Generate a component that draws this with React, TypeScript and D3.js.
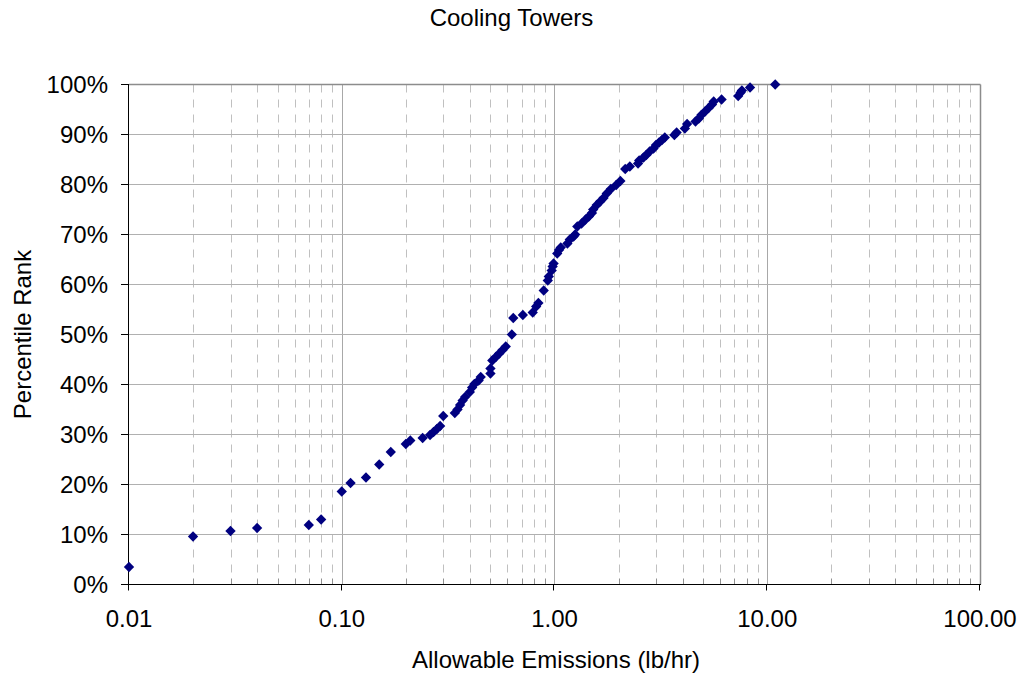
import * as d3 from 'd3';

const W = 1023;
const H = 677;
const PLOT = { left: 129, right: 980, top: 84.5, bottom: 584.5 };
const FONT = 'Arial, "Liberation Sans", sans-serif';

// Allowable emissions (lb/hr) and their percentile rank (%)
const emissions = [
  0.01, 0.02, 0.03, 0.04, 0.07, 0.08, 0.10, 0.11, 0.13, 0.15,
  0.17, 0.20, 0.21, 0.24, 0.26, 0.27, 0.28, 0.29, 0.30, 0.34,
  0.35, 0.36, 0.37, 0.38, 0.40, 0.41, 0.42, 0.44, 0.45, 0.50,
  0.50, 0.51, 0.53, 0.55, 0.57, 0.59, 0.63, 0.64, 0.71, 0.79,
  0.82, 0.84, 0.89, 0.93, 0.94, 0.97, 0.98, 0.99, 1.03, 1.05,
  1.07, 1.15, 1.18, 1.23, 1.25, 1.28, 1.34, 1.40, 1.45, 1.50,
  1.52, 1.58, 1.64, 1.70, 1.76, 1.84, 1.95, 2.04, 2.15, 2.26,
  2.47, 2.50, 2.62, 2.70, 2.80, 2.92, 3.00, 3.10, 3.20, 3.30,
  3.66, 3.75, 4.10, 4.20, 4.60, 4.77, 4.90, 5.10, 5.30, 5.50,
  5.60, 6.10, 7.30, 7.50, 7.60, 8.30, 10.9,
];
const ranks = [
  3.5, 9.6, 10.7, 11.3, 11.9, 13.0, 18.6, 20.3, 21.4, 24.0,
  26.5, 28.1, 28.8, 29.3, 29.9, 30.5, 31.1, 31.7, 33.7, 34.3,
  35.0, 35.9, 36.8, 37.5, 38.5, 39.4, 40.1, 40.8, 41.5, 42.2,
  43.2, 44.8, 45.5, 46.2, 46.9, 47.6, 50.0, 53.3, 53.9, 54.4,
  55.6, 56.3, 58.8, 60.8, 61.6, 62.8, 63.6, 64.2, 66.2, 66.9,
  67.4, 68.2, 69.0, 69.6, 70.0, 71.6, 72.2, 73.0, 73.6, 74.3,
  75.0, 75.9, 76.6, 77.3, 78.2, 79.1, 79.9, 80.7, 83.1, 83.6,
  84.2, 84.8, 85.4, 85.9, 86.6, 87.2, 87.9, 88.4, 88.9, 89.4,
  89.9, 90.4, 91.2, 92.1, 92.6, 93.2, 93.9, 94.6, 95.3, 96.0,
  96.6, 97.0, 97.7, 98.4, 98.8, 99.4, 100,
];

const xMajor = [0.01, 0.1, 1, 10, 100];
const yTicks = [0, 10, 20, 30, 40, 50, 60, 70, 80, 90, 100];

export default function App() {
  const x = d3.scaleLog().domain([0.01, 100]).range([PLOT.left, PLOT.right]);
  const y = d3.scaleLinear().domain([0, 100]).range([PLOT.bottom, PLOT.top]);

  // minor ticks 2..9 within each decade
  const xMinor: number[] = [];
  for (let d = 0; d < xMajor.length - 1; d++) {
    for (let k = 2; k <= 9; k++) xMinor.push(xMajor[d] * k);
  }

  const diamond = d3.symbol().type(d3.symbolDiamond2).size(68)();
  const points = emissions.map((e, i) => ({ e, r: ranks[i] }));

  return (
    <svg width={W} height={H} style={{ position: 'absolute', left: 0, top: 0, background: '#fff' }}
      fontFamily={FONT}>
      {/* minor vertical grid, dashed */}
      {xMinor.map(v => (
        <line key={'mg' + v} x1={Math.round(x(v)) + 0.5} x2={Math.round(x(v)) + 0.5}
          y1={PLOT.top} y2={PLOT.bottom} stroke="#c0c0c0" strokeDasharray="8,7" />
      ))}
      {/* major vertical grid */}
      {xMajor.slice(1, -1).map(v => (
        <line key={'Mg' + v} x1={Math.round(x(v)) + 0.5} x2={Math.round(x(v)) + 0.5}
          y1={PLOT.top} y2={PLOT.bottom} stroke="#a8a8a8" />
      ))}
      {/* horizontal grid */}
      {yTicks.slice(1).map(t => (
        <line key={'hg' + t} x1={PLOT.left} x2={PLOT.right} y1={y(t)} y2={y(t)} stroke="#b0b0b0" />
      ))}
      {/* plot frame top/right */}
      <line x1={PLOT.left} x2={PLOT.right + 0.5} y1={PLOT.top} y2={PLOT.top} stroke="#8c8c8c" strokeWidth={1.5} />
      <line x1={PLOT.right + 0.5} x2={PLOT.right + 0.5} y1={PLOT.top} y2={PLOT.bottom} stroke="#8c8c8c" strokeWidth={1.5} />

      {/* minor x ticks (inside) */}
      {xMinor.map(v => (
        <line key={'mt' + v} x1={Math.round(x(v)) + 0.5} x2={Math.round(x(v)) + 0.5}
          y1={PLOT.bottom - 6} y2={PLOT.bottom} stroke="#909090" />
      ))}
      {/* axes */}
      <line x1={PLOT.left} x2={PLOT.right + 1} y1={PLOT.bottom} y2={PLOT.bottom} stroke="#000" />
      <line x1={PLOT.left - 0.5} x2={PLOT.left - 0.5} y1={PLOT.top} y2={PLOT.bottom} stroke="#000" />
      {xMajor.map(v => (
        <g key={'xt' + v}>
          <line x1={Math.round(x(v)) - 0.5} x2={Math.round(x(v)) - 0.5} y1={PLOT.bottom} y2={PLOT.bottom + 6} stroke="#000" />
          <text x={x(v)} y={627} textAnchor="middle" fontSize={24} fill="#000">{v.toFixed(2)}</text>
        </g>
      ))}
      {yTicks.map(t => (
        <g key={'yt' + t}>
          <line x1={PLOT.left - 8} x2={PLOT.left} y1={y(t)} y2={y(t)} stroke="#000" />
          <text x={108} y={y(t)} dy="0.35em" textAnchor="end" fontSize={24} fill="#000">{t + '%'}</text>
        </g>
      ))}

      {/* points */}
      {points.map((p, i) => (
        <path key={'p' + i} d={diamond ?? ''} transform={`translate(${x(p.e)},${y(p.r)})`} fill="#000080" />
      ))}

      <text x={511.5} y={26} textAnchor="middle" fontSize={24} fill="#000">Cooling Towers</text>
      <text x={556} y={668} textAnchor="middle" fontSize={24} fill="#000">Allowable Emissions (lb/hr)</text>
      <text transform={`translate(31,${(PLOT.top + PLOT.bottom) / 2}) rotate(-90)`} textAnchor="middle"
        fontSize={24} fill="#000">Percentile Rank</text>
    </svg>
  );
}
